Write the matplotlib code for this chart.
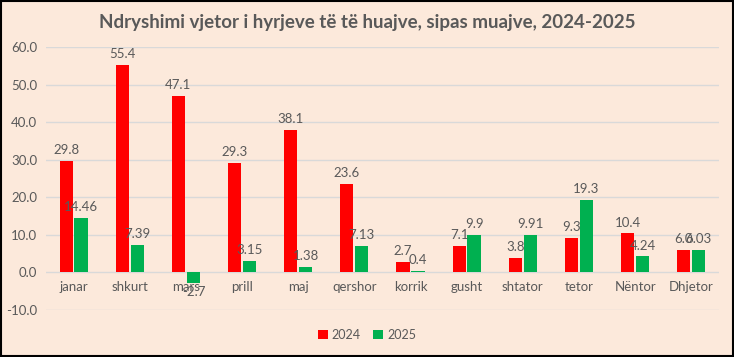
import numpy as np
import matplotlib.pyplot as plt
from matplotlib.patches import Rectangle

months = ["janar", "shkurt", "mars", "prill", "maj", "qershor", "korrik",
          "gusht", "shtator", "tetor", "Nëntor", "Dhjetor"]
vals_2024 = [29.8, 55.4, 47.1, 29.3, 38.1, 23.6, 2.7, 7.1, 3.8, 9.3, 10.4, 6.0]
vals_2025 = [14.46, 7.39, -2.7, 3.15, 1.38, 7.13, 0.4, 9.9, 9.91, 19.3, 4.24, 6.03]
labels_2024 = ["29.8", "55.4", "47.1", "29.3", "38.1", "23.6", "2.7", "7.1", "3.8", "9.3", "10.4", "6.0"]
labels_2025 = ["14.46", "7.39", "-2.7", "3.15", "1.38", "7.13", "0.4", "9.9", "9.91", "19.3", "4.24", "6.03"]
yticks = [-10, 0, 10, 20, 30, 40, 50, 60]

bg = "#FCE9DB"
txt = "#595959"
plt.rcParams["font.family"] = ["Lato", "DejaVu Sans"]

fig = plt.figure(figsize=(7.34, 3.57), dpi=100, facecolor=bg)
ax = fig.add_axes([0.062, 0.132, 0.918, 0.735])
ax.set_facecolor(bg)

x = np.arange(len(months))
w = 0.235
gap = 0.03
b1 = ax.bar(x - w/2 - gap/2, vals_2024, w, color="#FF0000", label="2024", zorder=3)
b2 = ax.bar(x + w/2 + gap/2, vals_2025, w, color="#00B050", label="2025", zorder=3)

# data labels
for rect, lab in zip(b1, labels_2024):
    h = rect.get_height()
    ax.text(rect.get_x() + rect.get_width()/2, h + 1.3, lab, ha="center", va="bottom",
            fontsize=9.5, color=txt)
for rect, v, lab in zip(b2, vals_2025, labels_2025):
    cx = rect.get_x() + rect.get_width()/2
    if v < 0:
        ax.text(cx, v - 1.0, lab, ha="center", va="top", fontsize=9.5, color=txt)
    else:
        ax.text(cx, v + 1.3, lab, ha="center", va="bottom", fontsize=9.5, color=txt)

ax.set_ylim(-10, 60)
ax.set_xlim(-0.5, len(months) - 0.5)
ax.set_yticks(yticks)
ax.set_yticklabels([f"{t:.1f}" for t in yticks], fontsize=9.5, color=txt)
ax.set_xticks(x)
ax.set_xticklabels([])
ax.tick_params(axis="both", length=0, pad=6)

# month labels sit just under the zero line
for xi, m in zip(x, months):
    ax.text(xi, -2.2, m, ha="center", va="top", fontsize=9.5, color=txt)

ax.grid(axis="y", color="#D9D9D9", linewidth=1, zorder=0)
for s in ax.spines.values():
    s.set_visible(False)

fig.suptitle("Ndryshimi vjetor i hyrjeve të të huajve, sipas muajve, 2024-2025",
             x=0.5, y=0.96, fontsize=13.5, fontweight="bold", color=txt)

fig.legend(handles=[b1, b2], labels=["2024", "2025"], loc="center",
           bbox_to_anchor=(0.5, 0.062), ncol=2, frameon=False,
           fontsize=9, labelcolor=txt, handlelength=0.8, handleheight=0.8,
           handletextpad=0.3, columnspacing=1.0)

fig.patches.append(Rectangle((0.002, 0.004), 0.996, 0.992, transform=fig.transFigure,
                             fill=False, edgecolor="black", linewidth=1.5))

fig.savefig("out.png", dpi=100, facecolor=bg)
